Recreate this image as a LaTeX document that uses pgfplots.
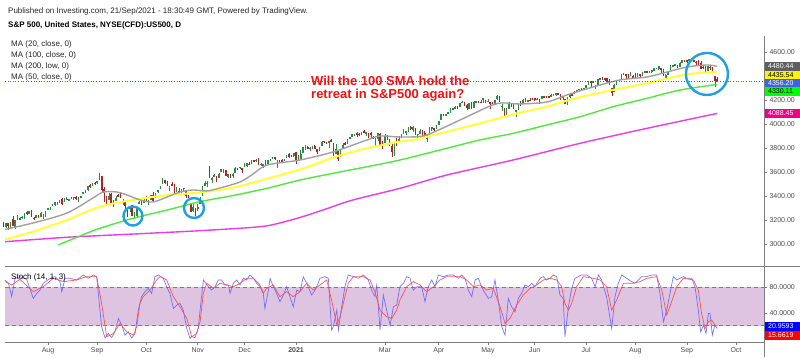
\documentclass[border=0pt]{standalone}
\usepackage{pgfplots}
\pgfplotsset{compat=1.18}
\usepackage{pgfplotstable}
\usepackage{fontspec}
\setmainfont{Liberation Sans}
\definecolor{upc}{RGB}{40,140,70}
\definecolor{dnc}{RGB}{175,35,35}
\definecolor{ma20}{RGB}{160,160,160}
\definecolor{ma50}{RGB}{255,255,60}
\definecolor{ma100}{RGB}{80,232,60}
\definecolor{ma200}{RGB}{232,60,232}
\definecolor{circ}{RGB}{30,160,225}
\definecolor{band}{RGB}{222,196,224}
\definecolor{kline}{RGB}{95,95,255}
\definecolor{dline}{RGB}{255,70,70}
\definecolor{axgray}{RGB}{125,125,125}
\definecolor{txtgray}{RGB}{75,75,75}
\definecolor{priceblue}{RGB}{60,100,225}
\definecolor{redtxt}{RGB}{235,20,20}
\definecolor{boxgray}{RGB}{95,95,95}

\pgfplotstableread{
t o h l c
-19 3166 3184 3142 3145
-18 3146 3172 3137 3170
-17 3176 3179 3115 3152
-16 3152 3187 3136 3185
-15 3205 3236 3152 3155
-14 3141 3200 3128 3198
-13 3225 3238 3201 3227
-12 3209 3221 3198 3216
-11 3224 3234 3206 3225
-10 3218 3259 3212 3252
-9 3268 3277 3245 3257
-8 3254 3279 3250 3276
-7 3272 3280 3229 3236
-6 3218 3227 3200 3216
-5 3219 3242 3214 3239
-4 3234 3244 3217 3218
-3 3228 3264 3227 3258
-2 3231 3250 3205 3246
-1 3270 3272 3221 3271
0 3289 3303 3284 3295
1 3289 3306 3281 3307
2 3318 3331 3317 3328
3 3323 3351 3319 3349
4 3340 3353 3329 3351
5 3357 3364 3343 3360
6 3370 3381 3326 3334
7 3355 3387 3355 3380
8 3373 3388 3365 3373
9 3368 3379 3360 3373
10 3380 3388 3375 3382
11 3387 3395 3370 3390
12 3392 3399 3369 3375
13 3360 3391 3354 3385
14 3387 3399 3380 3397
15 3419 3432 3413 3431
16 3436 3450 3428 3444
17 3449 3482 3444 3479
18 3486 3501 3469 3485
19 3494 3510 3483 3508
20 3509 3514 3494 3500
21 3507 3529 3504 3527
22 3543 3588 3535 3581
23 3564 3564 3427 3455
24 3453 3479 3349 3427
25 3390 3399 3330 3332
26 3370 3425 3365 3399
27 3412 3425 3329 3339
28 3352 3368 3310 3341
29 3364 3402 3364 3384
30 3407 3419 3389 3401
31 3411 3429 3384 3386
32 3347 3375 3328 3357
33 3357 3362 3292 3320
34 3285 3285 3229 3281
35 3295 3320 3270 3316
36 3320 3324 3232 3237
37 3236 3268 3209 3247
38 3236 3306 3228 3298
39 3334 3360 3332 3352
40 3350 3357 3327 3336
41 3341 3393 3340 3363
42 3385 3397 3362 3381
43 3339 3370 3323 3348
44 3368 3409 3366 3409
45 3408 3432 3354 3361
46 3385 3426 3384 3419
47 3434 3447 3429 3447
48 3459 3483 3456 3477
49 3500 3549 3500 3534
50 3534 3534 3496 3512
51 3515 3527 3480 3489
52 3453 3486 3441 3483
53 3494 3515 3482 3484
54 3493 3502 3420 3427
55 3439 3476 3435 3443
56 3440 3465 3433 3436
57 3439 3460 3415 3453
58 3464 3466 3440 3465
59 3442 3443 3383 3401
60 3404 3409 3387 3391
61 3342 3342 3269 3271
62 3278 3342 3268 3310
63 3294 3304 3234 3270
64 3296 3331 3279 3310
65 3337 3389 3337 3369
66 3406 3486 3405 3443
67 3485 3529 3485 3510
68 3509 3521 3477 3509
69 3583 3646 3547 3551
70 3543 3558 3511 3546
71 3563 3582 3560 3573
72 3562 3570 3518 3537
73 3553 3593 3553 3585
74 3600 3628 3600 3627
75 3610 3624 3594 3610
76 3612 3620 3568 3568
77 3560 3586 3548 3582
78 3579 3582 3551 3558
79 3567 3590 3552 3578
80 3595 3643 3595 3635
81 3635 3636 3617 3630
82 3638 3645 3630 3638
83 3634 3634 3594 3622
84 3645 3678 3645 3662
85 3654 3670 3643 3669
86 3668 3682 3658 3667
87 3671 3700 3668 3699
88 3694 3698 3680 3692
89 3690 3708 3687 3702
90 3706 3713 3657 3673
91 3659 3675 3648 3668
92 3656 3665 3634 3664
93 3675 3698 3648 3648
94 3667 3695 3660 3695
95 3696 3712 3696 3701
96 3713 3725 3710 3722
97 3722 3726 3702 3709
98 3684 3702 3637 3695
99 3698 3702 3681 3687
100 3694 3711 3690 3690
101 3694 3704 3690 3703
102 3723 3740 3723 3735
103 3750 3757 3719 3727
104 3736 3745 3730 3732
105 3734 3760 3726 3756
106 3764 3770 3663 3701
107 3699 3738 3695 3727
108 3712 3783 3706 3748
109 3764 3811 3764 3804
110 3815 3826 3784 3825
111 3803 3818 3790 3800
112 3801 3811 3777 3801
113 3803 3820 3792 3810
114 3815 3823 3792 3795
115 3788 3788 3749 3768
116 3781 3805 3780 3799
117 3817 3860 3816 3852
118 3857 3862 3845 3853
119 3845 3853 3831 3842
120 3851 3860 3797 3855
121 3862 3871 3847 3850
122 3836 3837 3733 3751
123 3756 3830 3756 3787
124 3778 3779 3694 3714
125 3732 3784 3725 3774
126 3791 3843 3791 3826
127 3840 3848 3822 3830
128 3837 3872 3836 3872
129 3878 3894 3875 3887
130 3893 3916 3893 3916
131 3910 3918 3902 3911
132 3920 3932 3890 3910
133 3918 3925 3902 3916
134 3911 3937 3906 3935
135 3940 3951 3924 3933
136 3918 3933 3900 3931
137 3915 3922 3885 3914
138 3921 3930 3885 3907
139 3886 3904 3874 3877
140 3873 3883 3805 3881
141 3873 3928 3859 3925
142 3916 3926 3822 3829
143 3840 3862 3789 3811
144 3842 3914 3842 3902
145 3903 3906 3867 3870
146 3863 3875 3818 3820
147 3818 3844 3723 3768
148 3793 3851 3731 3842
149 3844 3882 3819 3821
150 3851 3904 3851 3875
151 3891 3918 3885 3899
152 3916 3960 3916 3939
153 3925 3944 3906 3943
154 3943 3970 3934 3969
155 3974 3981 3949 3963
156 3949 3983 3936 3974
157 3963 3969 3911 3915
158 3913 3919 3884 3913
159 3917 3956 3917 3941
160 3937 3949 3901 3911
161 3920 3943 3886 3889
162 3879 3919 3853 3910
163 3913 3978 3913 3975
164 3970 3976 3944 3971
165 3963 3968 3944 3959
166 3967 3994 3966 3973
167 3992 4021 3992 4020
168 4035 4084 4035 4078
169 4075 4087 4069 4074
170 4075 4084 4069 4080
171 4090 4098 4082 4097
172 4097 4129 4095 4129
173 4124 4131 4114 4128
174 4130 4148 4125 4142
175 4141 4152 4122 4125
176 4140 4173 4140 4170
177 4175 4192 4171 4185
178 4180 4180 4150 4163
179 4160 4164 4119 4135
180 4128 4176 4126 4173
181 4170 4180 4124 4135
182 4139 4195 4139 4180
183 4185 4194 4180 4188
184 4189 4193 4176 4187
185 4185 4201 4181 4183
186 4207 4218 4176 4212
187 4198 4199 4174 4181
188 4192 4210 4188 4193
189 4180 4187 4128 4165
190 4178 4187 4166 4168
191 4170 4202 4157 4202
192 4210 4238 4202 4233
193 4228 4236 4188 4188
194 4151 4163 4111 4152
195 4131 4135 4057 4063
196 4075 4131 4070 4113
197 4130 4183 4130 4174
198 4169 4169 4143 4163
199 4165 4170 4125 4128
200 4098 4117 4061 4116
201 4122 4172 4120 4159
202 4168 4188 4151 4156
203 4170 4209 4170 4197
204 4205 4213 4183 4188
205 4192 4203 4183 4196
206 4202 4213 4198 4201
207 4210 4218 4203 4204
208 4216 4218 4193 4202
209 4207 4217 4199 4208
210 4206 4207 4168 4193
211 4207 4234 4206 4230
212 4229 4232 4217 4227
213 4233 4237 4220 4227
214 4232 4237 4218 4220
215 4229 4249 4229 4239
216 4243 4249 4233 4247
217 4248 4255 4235 4255
218 4256 4257 4238 4247
219 4249 4252 4203 4224
220 4220 4232 4196 4222
221 4204 4204 4165 4167
222 4173 4226 4156 4225
223 4224 4256 4218 4246
224 4249 4256 4238 4242
225 4256 4272 4256 4267
226 4274 4286 4271 4281
227 4285 4293 4281 4291
228 4294 4300 4284 4292
229 4290 4302 4287 4298
230 4301 4321 4301 4320
231 4327 4356 4323 4352
232 4356 4358 4310 4344
233 4347 4359 4340 4358
234 4321 4323 4290 4321
235 4330 4372 4330 4370
236 4373 4386 4365 4385
237 4381 4393 4365 4369
238 4381 4383 4357 4374
239 4382 4382 4344 4360
240 4367 4375 4325 4327
241 4296 4296 4233 4259
242 4265 4337 4265 4323
243 4331 4359 4331 4359
244 4361 4369 4351 4368
245 4381 4415 4381 4412
246 4409 4423 4406 4422
247 4417 4417 4378 4402
248 4402 4416 4386 4401
249 4403 4430 4403 4419
250 4396 4412 4387 4395
251 4407 4423 4379 4387
252 4393 4424 4393 4423
253 4416 4417 4395 4403
254 4405 4430 4405 4429
255 4431 4441 4422 4437
256 4437 4440 4425 4432
257 4435 4445 4430 4437
258 4440 4448 4429 4448
259 4446 4461 4442 4461
260 4464 4468 4460 4468
261 4462 4480 4448 4480
262 4462 4462 4417 4448
263 4440 4455 4400 4400
264 4382 4418 4368 4406
265 4410 4444 4406 4442
266 4450 4489 4450 4480
267 4484 4493 4482 4486
268 4491 4502 4487 4496
269 4493 4494 4469 4470
270 4474 4513 4472 4509
271 4514 4537 4514 4529
272 4529 4532 4515 4523
273 4529 4532 4512 4524
274 4534 4545 4527 4537
275 4532 4542 4522 4535
276 4535 4535 4514 4520
277 4518 4525 4494 4514
278 4514 4530 4493 4493
279 4506 4521 4458 4459
280 4474 4492 4462 4469
281 4479 4485 4436 4443
282 4447 4482 4439 4481
283 4477 4486 4448 4474
284 4470 4471 4428 4433
285 4402 4403 4306 4358
286 4375 4394 4350 4356
}\candles

\pgfplotsset{
  candle/.style n args={2}{
    #1, draw=none, mark=none, forget plot,
    error bars/.cd, y dir=both, y explicit, error mark=none,
    error bar style={draw=#1, solid, line width=#2}},
}

\begin{document}
\begin{tikzpicture}
\path[use as bounding box] (0pt,0pt) rectangle (800pt,357pt);

% ---------------- price panel ----------------
\begin{axis}[
  at={(0pt,91pt)}, anchor=south west, scale only axis,
  width=764pt, height=230pt,
  xmin=-20.51, xmax=305.98, ymin=2816.67, ymax=4733.33,
  axis line style={draw=none},
  xtick=\empty,
  ytick={3000,3200,3400,3600,3800,4000,4200,4400,4600},
  ytick pos=right, yticklabel pos=right,
  tick align=outside, major tick length=3pt,
  tick style={axgray, line width=0.6pt},
  scaled y ticks=false,
  yticklabel style={font=\fontsize{7}{8}\selectfont, text=txtgray, xshift=-1pt,
    /pgf/number format/.cd, fixed, fixed zerofill, precision=2, 1000 sep={}, assume math mode=true},
  clip=true,
]
% wicks up
\addplot[restrict expr to domain={\thisrow{c}-\thisrow{o}}{0:100000}, candle={upc}{0.55pt}]
  table[x=t, y expr=(\thisrow{h}+\thisrow{l})/2, y error expr=(\thisrow{h}-\thisrow{l})/2]{\candles};
% wicks down
\addplot[restrict expr to domain={\thisrow{o}-\thisrow{c}}{0.001:100000}, candle={dnc}{0.55pt}]
  table[x=t, y expr=(\thisrow{h}+\thisrow{l})/2, y error expr=(\thisrow{h}-\thisrow{l})/2]{\candles};
% bodies up
\addplot[restrict expr to domain={\thisrow{c}-\thisrow{o}}{0:100000}, candle={upc}{1.6pt}]
  table[x=t, y expr=(\thisrow{o}+\thisrow{c})/2, y error expr=abs(\thisrow{c}-\thisrow{o})/2+2]{\candles};
% bodies down
\addplot[restrict expr to domain={\thisrow{o}-\thisrow{c}}{0.001:100000}, candle={dnc}{1.6pt}]
  table[x=t, y expr=(\thisrow{o}+\thisrow{c})/2, y error expr=abs(\thisrow{c}-\thisrow{o})/2+2]{\candles};

% MA 200 (low)
\addplot[ma200, line width=1.4pt, smooth] coordinates {
(-18.4,3019) (8.1,3056) (36.3,3083) (65.0,3111) (90.6,3144) (100,3180) (110,3235) (120,3300)
(130.3,3367) (150.4,3464) (170.5,3575) (198.7,3700) (227.4,3839) (256.0,3964) (286,4088.45)};
% MA 100
\addplot[ma100, line width=1.4pt, smooth] coordinates {
(4.4,2992) (12.3,3056) (22.2,3131) (36.3,3214) (50.9,3283) (65.0,3353) (79.1,3404) (93.6,3464)
(107.7,3533) (121.8,3589) (136.3,3644) (150.4,3700) (170.5,3798) (184.6,3867) (198.7,3922)
(213.2,3992) (227.4,4061) (241.5,4144) (256.0,4214) (270.1,4283) (286,4330.11)};
% MA 50
\addplot[ma50, line width=2pt, smooth] coordinates {
(-18.4,3039) (-6.4,3103) (8.1,3200) (22.2,3311) (36.3,3367) (50.9,3408) (65.0,3430) (79.1,3470)
(92,3535) (107.7,3620) (121.8,3720) (136.3,3798) (150.4,3853) (156.0,3867) (170.5,3935)
(184.6,4005) (198.7,4080) (213.2,4144) (221.8,4195) (234.6,4256) (248.7,4311) (262.8,4370)
(273.1,4415) (286,4435.54)};
% MA 20
\addplot[ma20, line width=1.4pt, smooth] coordinates {
(-18.4,3122) (-6.4,3175) (8.1,3258) (19.2,3383) (23.5,3433) (29.5,3433) (33.8,3408) (39.3,3367)
(44.9,3350) (50.9,3392) (56.4,3433) (62.0,3450) (67.9,3442) (73.5,3467) (82.1,3517) (87.6,3583)
(93.6,3658) (107.7,3700) (121.8,3767) (136.3,3867) (141.9,3900) (150.4,3892) (160.3,3900)
(168.8,3967) (179,4060) (191.9,4170) (201.7,4167) (213.2,4183) (221.8,4242) (232.9,4308)
(244.4,4367) (256.0,4392) (264.5,4433) (273.1,4475) (281.6,4492) (286,4480.44)};

% current price line
\addplot[priceblue, line width=0.6pt, dotted, forget plot] coordinates {(-18.4,4356.2) (305.98,4356.2)};

% annotations
\draw[circ, line width=2.4pt] (axis cs:36.3,3233) circle[radius=9.5pt];
\draw[circ, line width=2.4pt] (axis cs:62.4,3300) circle[radius=10pt];
\draw[circ, line width=2.4pt] (axis cs:281.6,4417) circle[radius=21pt];
\end{axis}

% ---------------- stochastic panel ----------------
\begin{axis}[
  at={(0pt,15pt)}, anchor=south west, scale only axis,
  width=764pt, height=76pt,
  xmin=-20.51, xmax=305.98, ymin=-5.3, ymax=113.3,
  axis line style={draw=none},
  xtick={0,21,42,64,84,106,144,167,188,208,230,251,273,294},
  xticklabels={Aug,Sep,Oct,Nov,Dec,\textbf{2021},Mar,Apr,May,Jun,Jul,Aug,Sep,Oct},
  xtick pos=bottom,
  ytick={40,80},
  ytick pos=right, yticklabel pos=right,
  tick align=outside, major tick length=3pt,
  tick style={axgray, line width=0.6pt},
  xticklabel style={font=\fontsize{7}{8}\selectfont, text=txtgray, yshift=1pt},
  yticklabel style={font=\fontsize{7}{8}\selectfont, text=txtgray, xshift=-1pt,
    /pgf/number format/.cd, fixed, fixed zerofill, precision=4, assume math mode=true},
]
\fill[band] (axis cs:-18.4,20) rectangle (axis cs:305.98,80);
\draw[axgray, line width=0.7pt, dash pattern=on 4pt off 3pt] (axis cs:-18.4,20) -- (axis cs:305.98,20);
\draw[axgray, line width=0.7pt, dash pattern=on 4pt off 3pt] (axis cs:-18.4,80) -- (axis cs:305.98,80);
% %K
\addplot[kline, line width=0.7pt, opacity=0.85] coordinates {
(-18.4,91.5) (-16.9,86.3) (-15.5,65.4) (-14.1,94.1) (-12.0,96.7) (-9.1,92.5) (-6.3,62.8) (-4.8,70.6)
(-3.4,75.8) (-2.0,86.3) (0.9,94.1) (3.0,96.7) (5.1,88.9) (5.9,73.2) (7.3,94.1) (9.4,94.1) (12.3,91.5)
(15.1,99.3) (17.2,94.1) (19.4,99.3) (20.8,96.7) (22.2,44.5) (22.9,18.4) (24.4,1.0) (25.8,8.0) (27.2,1.5)
(28.6,10.6) (30.1,31.5) (31.5,21.0) (32.9,5.4) (34.3,10.6) (35.8,1.0) (37.2,8.0) (38.6,44.5) (40.0,65.4)
(41.4,73.2) (42.9,78.4) (44.3,70.6) (45.7,96.7) (47.2,99.3) (49.3,94.1) (50.7,81.0) (52.1,70.6)
(53.6,47.1) (55.0,52.3) (56.4,55.0) (57.8,44.5) (59.3,15.8) (60.7,0.5) (61.4,3.0) (62.8,1.5) (64.2,15.8)
(65.0,44.5) (66.4,91.5) (68.5,81.0) (69.9,75.8) (71.4,81.0) (72.8,91.5) (74.2,91.5) (75.6,83.7)
(77.1,83.7) (77.8,70.6) (79.2,86.3) (80.6,91.5) (82.1,83.7) (83.5,94.1) (84.9,91.5) (86.3,99.3)
(87.8,94.1) (89.2,86.3) (90.6,81.0) (92.0,70.6) (92.7,47.1) (94.2,75.8) (94.9,94.1) (96.3,81.0)
(97.7,70.6) (99.1,57.6) (100.6,68.0) (102.0,81.0) (103.4,65.4) (104.8,49.7) (106.3,75.8) (107.7,73.2)
(109.1,96.7) (110.5,86.3) (112.7,68.0) (114.1,75.8) (115.5,86.3) (116.2,94.1) (118.4,96.7) (119.8,94.1)
(121.2,13.2) (121.9,18.4) (123.4,44.5) (124.1,13.2) (125.5,49.7) (126.9,81.0) (128.3,99.3) (130.5,96.7)
(132.6,94.1) (134.8,99.3) (136.9,91.5) (138.3,75.8) (139.7,65.4) (140.5,83.7) (141.9,13.2) (143.3,68.0)
(144.7,44.5) (146.2,21.0) (147.6,49.7) (149.0,52.3) (150.4,81.0) (151.9,86.3) (153.3,96.7) (154.7,94.1)
(156.1,75.8) (157.5,81.0) (159.7,81.0) (161.1,57.6) (162.5,81.0) (164.0,91.5) (165.4,81.0) (166.8,99.3)
(168.9,96.7) (171.1,99.3) (173.2,99.3) (175.4,94.1) (176.8,99.3) (178.2,94.1) (179.6,75.8) (181.1,65.4)
(182.5,91.5) (183.9,94.1) (185.3,81.0) (186.8,70.6) (188.2,62.8) (189.6,65.4) (191.0,91.5) (192.4,60.2)
(193.9,18.4) (195.3,5.4) (196.7,62.8) (198.1,49.7) (199.6,41.9) (201.0,62.8) (202.4,70.6) (203.8,83.7)
(205.3,81.0) (206.7,86.3) (208.1,81.0) (210.3,94.1) (211.7,96.7) (213.1,91.5) (214.5,94.1) (216.0,99.3)
(217.4,96.7) (218.8,68.0) (220.2,62.8) (220.9,2.8) (222.4,49.7) (223.8,78.4) (225.2,94.1) (226.6,96.7)
(228.1,99.3) (230.2,99.3) (232.3,94.1) (233.8,81.0) (235.2,99.3) (236.6,91.5) (238.7,65.4) (240.9,15.8)
(242.3,65.4) (243.7,86.3) (245.2,99.3) (247.3,94.1) (249.4,88.9) (250.8,86.3) (252.3,91.5) (253.7,96.7)
(255.8,96.7) (258.0,99.3) (260.1,99.3) (261.5,70.6) (263.0,26.3) (264.4,44.5) (265.8,70.6) (267.2,96.7)
(268.7,91.5) (270.1,94.1) (271.5,96.7) (272.9,94.1) (275.1,94.1) (276.5,81.0) (277.9,44.5) (278.9,10.6)
(280.1,21.0) (281.2,8.0) (282.2,39.3) (282.9,39.3) (283.9,5.4) (285.0,21.0) (286.0,20.96)};
% %D
\addplot[dline, line width=0.7pt, opacity=0.9] coordinates {
(-18.4,88.9) (-15.5,83.7) (-12.0,92.5) (-6.3,73.2) (-2.0,81.0) (2.3,94.1) (6.6,88.9) (12.3,91.5)
(16.5,96.7) (20.8,96.7) (22.9,55.0) (25.1,2.8) (27.9,8.0) (30.8,23.7) (33.6,10.6) (36.5,5.4) (37.9,18.4)
(39.3,55.0) (40.7,65.4) (43.6,75.8) (46.4,91.5) (47.9,96.7) (50.7,91.5) (53.6,65.4) (56.4,49.7)
(59.3,31.5) (61.4,2.8) (63.5,8.0) (65.0,26.3) (66.4,70.6) (67.8,86.3) (70.7,78.4) (73.5,86.3) (76.4,83.7)
(79.2,81.0) (82.1,86.3) (84.9,94.1) (87.8,94.1) (90.6,83.7) (92.0,70.6) (93.4,78.4) (96.3,83.7)
(99.1,65.4) (102.0,73.2) (104.8,65.4) (107.7,73.2) (110.5,86.3) (113.4,75.8) (116.2,83.7) (119.1,91.5)
(121.2,60.2) (123.4,21.0) (124.8,34.1) (126.9,65.4) (128.3,86.3) (130.5,96.7) (134.8,96.7) (137.6,91.5)
(139.7,73.2) (141.9,44.5) (144.7,34.1) (146.9,31.5) (149.0,44.5) (150.4,60.2) (153.3,81.0) (156.1,88.9)
(159.0,83.7) (161.8,73.2) (164.7,81.0) (167.5,91.5) (170.4,96.7) (176.1,96.7) (178.9,91.5) (181.8,81.0)
(184.6,83.7) (187.5,75.8) (190.3,78.4) (193.2,49.7) (195.3,23.7) (197.4,31.5) (200.3,52.3) (203.1,68.0)
(206.0,78.4) (208.8,83.7) (211.7,91.5) (214.5,94.1) (217.4,91.5) (219.5,81.0) (220.9,55.0) (222.4,44.5)
(223.8,55.0) (225.9,81.0) (228.8,96.7) (233.0,94.1) (235.9,91.5) (238.7,81.0) (240.9,44.5) (243.0,60.2)
(245.9,86.3) (250.1,86.3) (253.0,88.9) (255.8,94.1) (260.1,96.7) (262.3,75.8) (264.4,36.7) (266.5,57.6)
(268.7,81.0) (271.5,94.1) (275.8,91.5) (277.9,75.8) (279.3,39.3) (280.8,15.8) (282.2,26.3) (283.6,28.9)
(285.0,21.0) (286.0,15.66)};
\end{axis}

% ---------------- frame lines ----------------
\draw[axgray, line width=0.8pt] (764pt,0pt) -- (764pt,321pt);
\draw[axgray, line width=0.8pt] (5pt,91pt) -- (800pt,91pt);
\draw[axgray, line width=0.8pt] (5pt,15pt) -- (764pt,15pt);

% ---------------- value boxes ----------------
\fill[boxgray] (765pt,286pt) rectangle (800pt,295pt);
\node[anchor=west, inner sep=0pt, font=\fontsize{7}{8}\selectfont, text=white] at (768pt,290.5pt) {4480.44};
\fill[yellow] (765pt,277pt) rectangle (800pt,286pt);
\node[anchor=west, inner sep=0pt, font=\fontsize{7}{8}\selectfont, text=black] at (768pt,281.5pt) {4435.54};
\fill[priceblue] (765pt,270pt) rectangle (800pt,278.5pt);
\node[anchor=west, inner sep=0pt, font=\fontsize{7}{8}\selectfont, text=white] at (768pt,274.2pt) {4356.20};
\fill[green] (765pt,261.5pt) rectangle (800pt,270pt);
\node[anchor=west, inner sep=0pt, font=\fontsize{7}{8}\selectfont, text=black] at (768pt,265.7pt) {4330.11};
\fill[magenta] (765pt,239pt) rectangle (800pt,248pt);
\node[anchor=west, inner sep=0pt, font=\fontsize{7}{8}\selectfont, text=white] at (768pt,243.5pt) {4088.45};
\fill[blue] (765pt,26.5pt) rectangle (800pt,35.5pt);
\node[anchor=west, inner sep=0pt, font=\fontsize{7}{8}\selectfont, text=white] at (768pt,31pt) {20.9593};
\fill[red] (765pt,17.5pt) rectangle (800pt,26.5pt);
\node[anchor=west, inner sep=0pt, font=\fontsize{7}{8}\selectfont, text=white] at (768pt,22pt) {15.6619};

% ---------------- texts ----------------
\node[anchor=west, inner sep=0pt, font=\fontsize{8}{9}\selectfont, text=black!85] at (8pt,346pt)
  {Published on Investing.com, 21/Sep/2021 - 18:30:49 GMT, Powered by TradingView.};
\node[anchor=west, inner sep=0pt, font=\fontsize{8}{9}\selectfont\bfseries] at (8pt,332pt)
  {S\&P 500, United States, NYSE(CFD):US500, D};
\node[anchor=west, inner sep=0pt, font=\fontsize{8}{9}\selectfont, text=black!85] at (11pt,313pt) {MA (20, close, 0)};
\node[anchor=west, inner sep=0pt, font=\fontsize{8}{9}\selectfont, text=black!85] at (11pt,302pt) {MA (100, close, 0)};
\node[anchor=west, inner sep=0pt, font=\fontsize{8}{9}\selectfont, text=black!85] at (11pt,291pt) {MA (200, low, 0)};
\node[anchor=west, inner sep=0pt, font=\fontsize{8}{9}\selectfont, text=black!85] at (11pt,280pt) {MA (50, close, 0)};
\node[anchor=west, inner sep=0pt, font=\fontsize{8}{9}\selectfont, text=black] at (11pt,80pt) {Stoch (14, 1, 3)};
\node[anchor=west, inner sep=0pt, align=left, font=\fontsize{13}{13}\selectfont\bfseries, text=redtxt] at (311pt,268.5pt)
  {Will the 100 SMA hold the\\retreat in S\&P500 again?};
\end{tikzpicture}
\end{document}
